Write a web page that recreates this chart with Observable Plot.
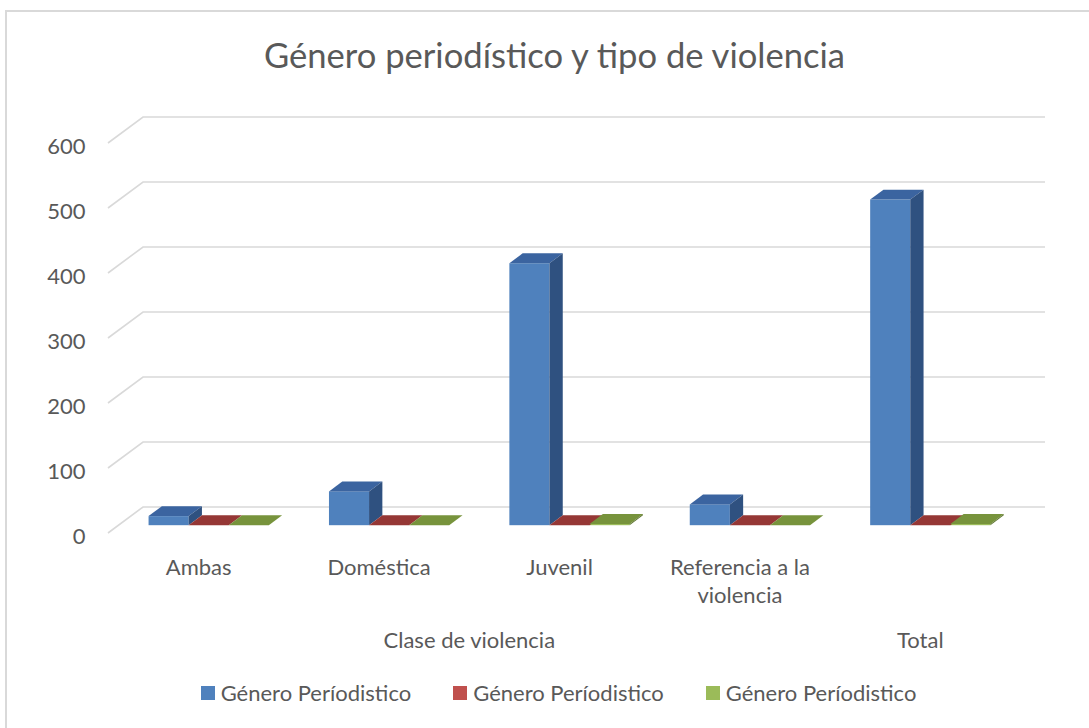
<!DOCTYPE html>
<html>
<head>
<meta charset="utf-8">
<script src="https://cdn.jsdelivr.net/npm/d3@7"></script>
<script src="https://cdn.jsdelivr.net/npm/@observablehq/plot@0.6"></script>
<style>
  html, body { margin: 0; padding: 0; background: #fff; overflow: hidden; }
  #wrap { position: relative; width: 1089px; height: 728px; overflow: hidden;
          font-family: Lato, "Open Sans", sans-serif; color: #595959; }
  #frame { position: absolute; left: 5px; top: 10px; width: 1200px; height: 800px;
           border: 2px solid #d9d9d9; box-sizing: border-box; }
  #title { position: absolute; top: 31px; left: 0; width: 1109px; text-align: center;
           font-size: 34.6px; line-height: 48px; }
  #chart { position: absolute; top: 100px; left: 0; }
  #legend { position: absolute; top: 679px; left: 0; width: 1117px; display: flex;
            justify-content: center; gap: 42px; font-size: 22px; line-height: 28px; }
  .item { display: flex; align-items: center; gap: 6px; }
  .sw { width: 14px; height: 14px; display: inline-block; }
</style>
</head>
<body>
<div id="wrap">
  <div id="frame"></div>
  <div id="title">Género periodístico y tipo de violencia</div>
  <div id="chart"></div>
  <div id="legend"></div>
</div>
<script>
// ---- data ----
const categories = ["Ambas", "Doméstica", "Juvenil", "Referencia a la\nviolencia", ""];
const groupNames = ["Clase de violencia", "Total"];
const groupSpans = [[0, 4], [4, 5]];
const seriesNames = ["Género Períodistico", "Género Períodistico", "Género Períodistico"];
const serie1 = [14, 52, 403, 32, 501];
const serie2 = [0, 0, 0, 0, 0];
const serie3 = [0, 0, 2, 0, 2];
const yTicks = [0, 100, 200, 300, 400, 500, 600];

// ---- style ----
const frontColors = ["#4F81BD", "#C0504D", "#9BBB59"];
const topColors = ["#3B64A0", "#953735", "#77933C"];
const sideColors = ["#2F5180", "#7A2C2A", "#5F7730"];
const gridColor = "#d9d9d9";
const WALL = [35, -26];           // full depth of the 3D box in px
const BAR_FRONT = 0.3, BAR_BACK = 0.68; // bar depth fraction
const GAP = 1.5;                  // gap width 150%

const series = [serie1, serie2, serie3];
const rows = [];
categories.forEach((c, i) => {
  series.forEach((s, j) => {
    const x1 = i + (GAP / 2 + j) / (3 + GAP);
    rows.push({cat: c, i, j, value: s[i], x1, x2: x1 + 1 / (3 + GAP)});
  });
});
const catLabels = categories.map((c, i) => ({label: c, x: i + 0.5}));
const groupLabels = groupNames.map((g, k) => ({label: g, x: (groupSpans[k][0] + groupSpans[k][1]) / 2}));

const fx = BAR_FRONT * WALL[0], fy = BAR_FRONT * WALL[1];
const ddx = (BAR_BACK - BAR_FRONT) * WALL[0], ddy = (BAR_BACK - BAR_FRONT) * WALL[1];

function gridMark(index, scales) {
  const {x, y} = scales;
  const g = d3.create("svg:g").attr("fill", "none").attr("stroke", gridColor).attr("stroke-width", 1.6);
  for (const t of yTicks) {
    const x0 = x(0), y0 = y(t);
    g.append("path").attr("d",
      `M${x0},${y0}L${x0 + WALL[0]},${y0 + WALL[1]}L${x(categories.length) + WALL[0]},${y0 + WALL[1]}`);
  }
  return g.node();
}

function facesMark(index, scales) {
  const {x, y} = scales;
  const g = d3.create("svg:g");
  for (const d of rows) {
    const xa = x(d.x1) + fx, xb = x(d.x2) + fx, y0 = y(0) + fy, yv = y(d.value) + fy;
    g.append("path")
      .attr("d", `M${xa},${yv}L${xb},${yv}L${xb + ddx},${yv + ddy}L${xa + ddx},${yv + ddy}Z`)
      .attr("fill", topColors[d.j]);
    if (d.value > 0) {
      g.append("path")
        .attr("d", `M${xb},${yv}L${xb + ddx},${yv + ddy}L${xb + ddx},${y0 + ddy}L${xb},${y0}Z`)
        .attr("fill", sideColors[d.j]);
    }
  }
  return g.node();
}

const chart = Plot.plot({
  width: 1089,
  height: 565,
  marginLeft: 108,
  marginRight: 79,
  marginTop: 43,
  marginBottom: 132,
  style: {fontFamily: "Lato, 'Open Sans', sans-serif", fontSize: "22px", color: "#595959", background: "transparent", overflow: "visible"},
  x: {domain: [0, categories.length], axis: null},
  y: {domain: [0, 600]},
  color: {domain: [0, 1, 2], range: frontColors},
  marks: [
    gridMark,
    Plot.axisY(yTicks, {tickSize: 0, tickPadding: 23, fontSize: 22, dy: 3, label: null}),
    Plot.rectY(rows, {x1: "x1", x2: "x2", y1: 0, y2: "value", fill: "j", dx: fx, dy: fy}),
    facesMark,
    Plot.text(catLabels, {x: "x", y: () => 0, text: "label", lineAnchor: "top", dy: 21, lineHeight: 1.3, fontSize: 22, fill: "#595959"}),
    Plot.text(groupLabels, {x: "x", y: () => 0, text: "label", lineAnchor: "middle", dy: 107, fontSize: 22, fill: "#595959"})
  ]
});
document.getElementById("chart").appendChild(chart);

const legend = document.getElementById("legend");
seriesNames.forEach((name, j) => {
  const item = document.createElement("div");
  item.className = "item";
  const sw = document.createElement("span");
  sw.className = "sw";
  sw.style.background = frontColors[j];
  const tx = document.createElement("span");
  tx.textContent = name;
  item.appendChild(sw);
  item.appendChild(tx);
  legend.appendChild(item);
});
</script>
</body>
</html>
